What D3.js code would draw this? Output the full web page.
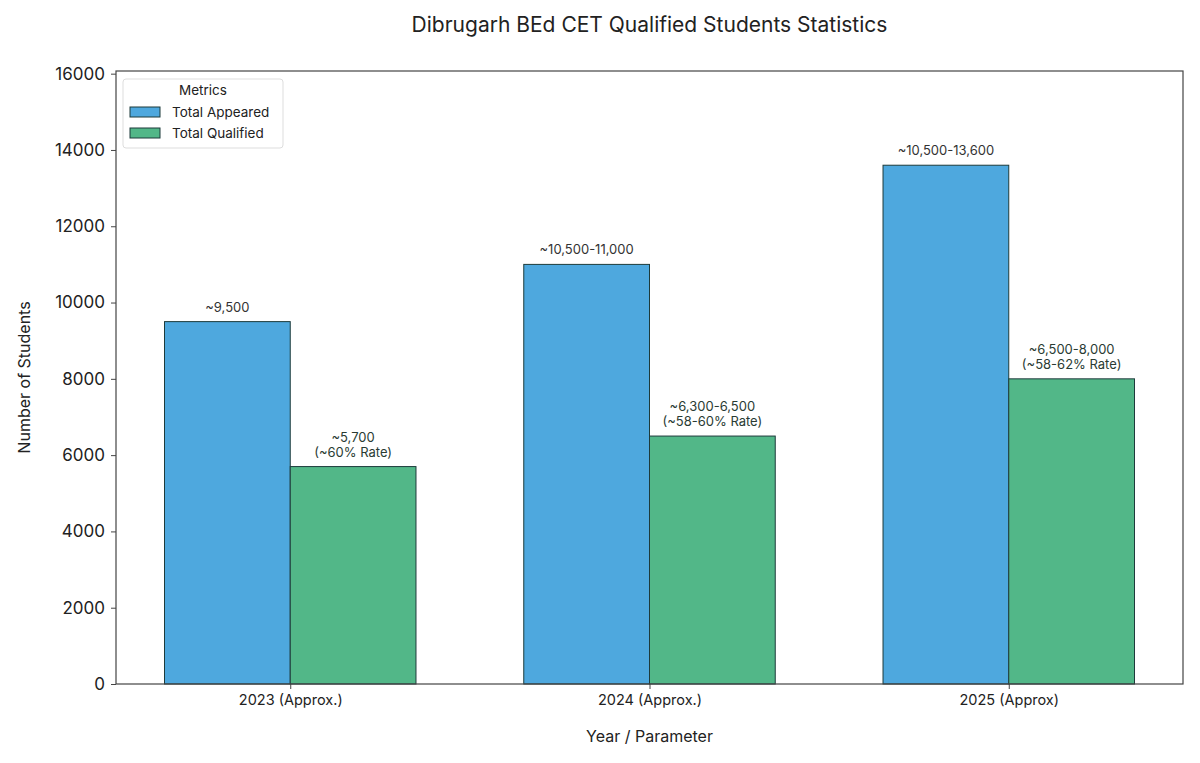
<!DOCTYPE html>
<html>
<head>
<meta charset="utf-8">
<script src="https://cdn.jsdelivr.net/npm/d3@7"></script>
<style>
	body { margin: 0; background: #fff; }
	svg text { font-family: Inter, "Open Sans", sans-serif; fill: #222; }
</style>
</head>
<body>
<div id="graphic"></div>
<script>
// chart data
var categories = ['2023 (Approx.)', '2024 (Approx.)', '2025 (Approx)'];
var seriesNames = ['Total Appeared', 'Total Qualified'];
var appeared = [9500, 11000, 13600];
var qualified = [5700, 6500, 8000];
var appearedLabels = [['~9,500'], ['~10,500-11,000'], ['~10,500-13,600']];
var qualifiedLabels = [['~5,700', '(~60% Rate)'], ['~6,300-6,500', '(~58-60% Rate)'], ['~6,500-8,000', '(~58-62% Rate)']];
var yTicks = [0, 2000, 4000, 6000, 8000, 10000, 12000, 14000, 16000];

var colours = ['#4EA8DE', '#52B788'];
var width = 1200, height = 763;
var margin = { top: 71, right: 17, bottom: 79, left: 116 };
var chart_width = width - margin.left - margin.right;
var chart_height = height - margin.top - margin.bottom;
var barWidth = 0.35;

var svg = d3.select('#graphic')
	.append('svg')
	.attr('width', width)
	.attr('height', height);

var g = svg.append('g')
	.attr('transform', 'translate(' + margin.left + ',' + margin.top + ')');

// matplotlib-like numeric x: categories at 0,1,2 with 5% margins
var x = d3.scaleLinear()
	.domain([-barWidth - 0.135, categories.length - 1 + barWidth + 0.135])
	.range([0, chart_width]);

var y = d3.scaleLinear().domain([0, 16070]).range([chart_height, 0]);

var series = [appeared, qualified];
var labels = [appearedLabels, qualifiedLabels];

series.forEach(function (vals, s) {
	var offset = s === 0 ? -barWidth : 0;
	g.selectAll('rect.s' + s)
		.data(vals)
		.join('rect')
		.attr('class', 's' + s)
		.attr('x', (d, i) => x(i + offset))
		.attr('width', x(barWidth) - x(0))
		.attr('y', (d) => y(d))
		.attr('height', (d) => y(0) - y(d))
		.attr('fill', colours[s])
		.attr('stroke', '#1d3b3b')
		.attr('stroke-width', 1);

	vals.forEach(function (v, i) {
		var lines = labels[s][i];
		var cx = x(i + offset + barWidth / 2);
		var t = g.append('text')
			.attr('x', cx)
			.attr('text-anchor', 'middle')
			.style('font-size', '13px')
			.style('fill', s === 0 ? '#333' : '#2a3b33');
		lines.forEach(function (line, k) {
			t.append('tspan')
				.attr('x', cx)
				.attr('y', y(v) - 10 - (lines.length - 1 - k) * 15)
				.text(line);
		});
	});
});

// axes
var yAxis = d3.axisLeft(y).tickValues(yTicks).tickFormat(d3.format('d')).tickSize(5).tickPadding(6);
var yG = g.append('g').call(yAxis);
yG.select('.domain').remove();
yG.selectAll('line').attr('stroke', '#444');
yG.selectAll('text').style('font-size', '17px').style('fill', '#222');

var xAxis = d3.axisBottom(x).tickValues(d3.range(categories.length)).tickFormat((d) => categories[d]).tickSize(5).tickPadding(6);
var xG = g.append('g').attr('transform', 'translate(0,' + chart_height + ')').call(xAxis);
xG.select('.domain').remove();
xG.selectAll('line').attr('stroke', '#444');
xG.selectAll('text').style('font-size', '14.5px').style('fill', '#222');

// frame
g.append('rect')
	.attr('width', chart_width)
	.attr('height', chart_height)
	.attr('fill', 'none')
	.attr('stroke', '#444')
	.attr('stroke-width', 1.2);

// titles
svg.append('text')
	.attr('x', margin.left + chart_width / 2)
	.attr('y', 32)
	.attr('text-anchor', 'middle')
	.style('font-size', '21px')
	.text('Dibrugarh BEd CET Qualified Students Statistics');

svg.append('text')
	.attr('x', margin.left + chart_width / 2)
	.attr('y', 742)
	.attr('text-anchor', 'middle')
	.style('font-size', '16px')
	.text('Year / Parameter');

svg.append('text')
	.attr('transform', 'translate(30,' + (margin.top + chart_height / 2) + ') rotate(-90)')
	.attr('text-anchor', 'middle')
	.style('font-size', '16px')
	.text('Number of Students');

// legend
var legend = svg.append('g').attr('transform', 'translate(123,79)');
legend.append('rect')
	.attr('width', 160)
	.attr('height', 69)
	.attr('rx', 3)
	.attr('fill', '#fff')
	.attr('stroke', '#ddd');
legend.append('text')
	.attr('x', 80)
	.attr('y', 16)
	.attr('text-anchor', 'middle')
	.style('font-size', '13.5px')
	.text('Metrics');
seriesNames.forEach(function (name, i) {
	legend.append('rect')
		.attr('x', 7)
		.attr('y', 28 + i * 21)
		.attr('width', 30)
		.attr('height', 10)
		.attr('fill', colours[i])
		.attr('stroke', '#1d3b3b');
	legend.append('text')
		.attr('x', 49)
		.attr('y', 38 + i * 21)
		.style('font-size', '13.5px')
		.text(name);
});
</script>
</body>
</html>
